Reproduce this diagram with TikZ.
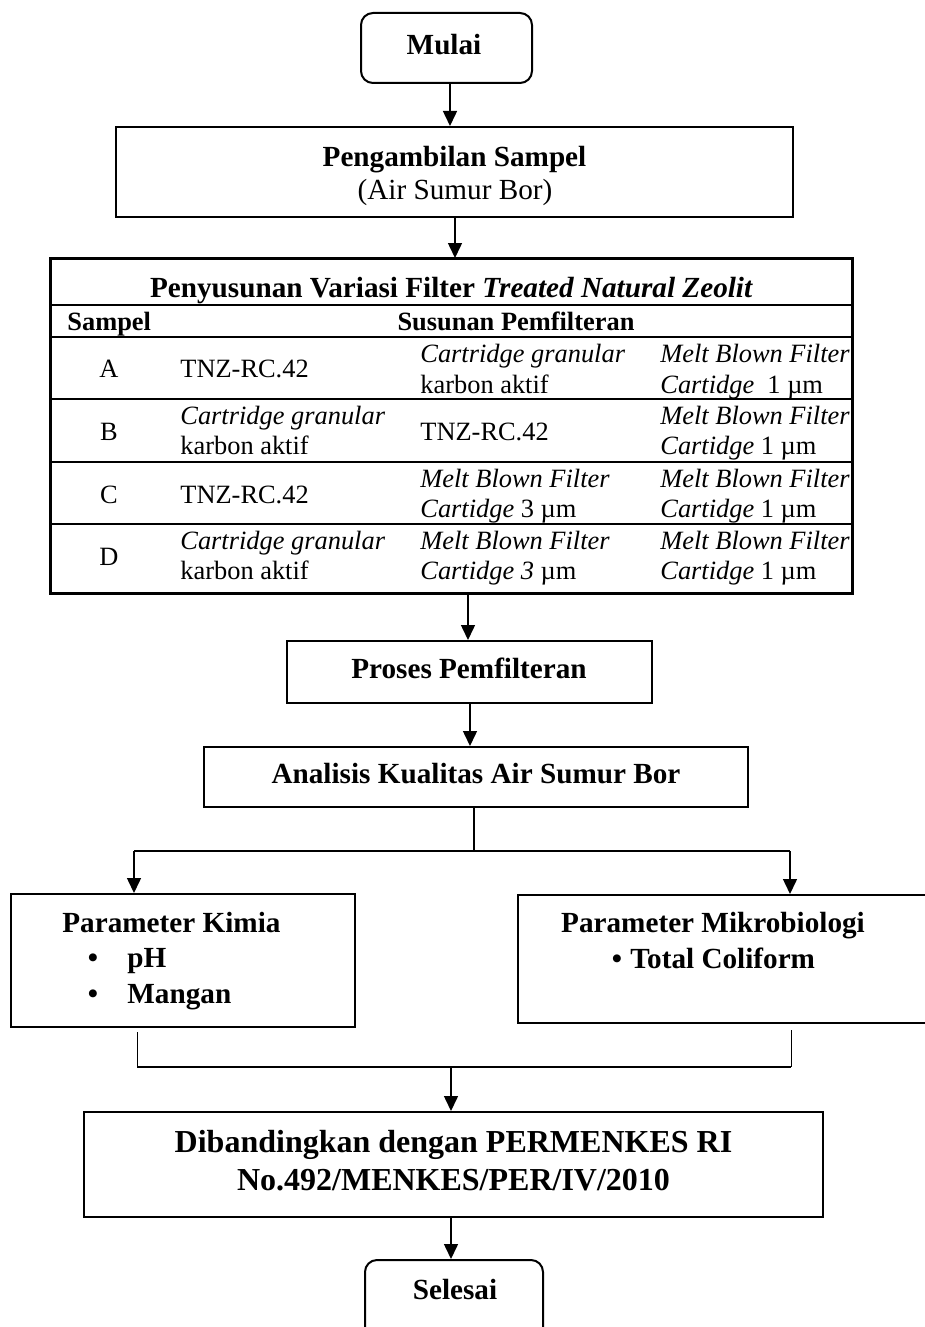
\documentclass[tikz,border=0pt]{standalone}
\usepackage{fontspec}
\setmainfont{Liberation Serif}
\usetikzlibrary{arrows.meta,calc}
\newcommand\fbold{\fontsize{14.6}{16.5}\selectfont\bfseries}
\newcommand\fbig{\fontsize{16}{19}\selectfont\bfseries}
\newcommand\ftab{\fontsize{13.2}{15}\selectfont}
\begin{document}
\begin{tikzpicture}[x=0.5pt,y=-0.5pt,
  box/.style={draw, line width=1pt, inner sep=0pt, fill=white},
  rbox/.style={box, rounded corners=6pt},
  arr/.style={-{Triangle[width=7pt,length=7.5pt]}, line width=0.75pt},
  ln/.style={line width=0.75pt},
  thin/.style={line width=0.5pt},
  tl/.style={line width=1pt},
  txt/.style={inner sep=0pt, font=\fbold, anchor=base},
  hd/.style={inner sep=0pt, font=\ftab\bfseries, anchor=base},
  big/.style={inner sep=0pt, font=\fbig, anchor=base},
  tb/.style={inner sep=0pt, font=\ftab, anchor=base west},
  tc/.style={inner sep=0pt, font=\ftab, anchor=base}]
\useasboundingbox (0,0) rectangle (925,1327);
\begin{scope}
\clip (0,0) rectangle (925,1327);
% column coordinates for connectors
\coordinate (c450) at (450,0);
\coordinate (c455) at (455,0);
\coordinate (c468) at (468,0);
\coordinate (c470) at (470,0);
\coordinate (c474) at (474,0);
\coordinate (c451) at (451,0);

% boxes
\node[rbox, minimum width=85.5pt, minimum height=35pt] (mulai) at (446.5,48) {};
\node[box, minimum width=338.5pt, minimum height=45pt] (ambil) at (454.5,172) {};
\node[box, minimum width=400.5pt, minimum height=167pt] (tabel) at (451.5,426) {};
\node[box, minimum width=182.5pt, minimum height=31pt] (proses) at (469.5,672) {};
\node[box, minimum width=272pt, minimum height=30pt] (analisis) at (476,777) {};
\node[box, minimum width=172pt, minimum height=66.5pt] (kimia) at (183,960.5) {};
\node[box, minimum width=208.5pt, minimum height=64pt] (mikro) at (726.5,959) {};
\node[box, minimum width=369.5pt, minimum height=52.5pt] (banding) at (453.5,1164.5) {};
\node[rbox, minimum width=89pt, minimum height=40pt] (selesai) at (454,1300) {};

% texts
\node[txt] (tmulai) at (444,55) {Mulai};
\node[txt] (tambil1) at (454.5,166) {Pengambilan Sampel};
\node[txt, font=\fontsize{14.6}{16.5}\selectfont] (tambil2) at (455,199) {(Air Sumur Bor)};

% table
\node[txt] (ttitle) at (451.5,297) {Penyusunan Variasi Filter \textit{Treated Natural Zeolit}};
\draw[tl] (tabel.west |- 0,305) -- (tabel.east |- 0,305);
\draw[tl] (tabel.west |- 0,337) -- (tabel.east |- 0,337);
\draw[tl] (tabel.west |- 0,399) -- (tabel.east |- 0,399);
\draw[tl] (tabel.west |- 0,462) -- (tabel.east |- 0,462);
\draw[tl] (tabel.west |- 0,524) -- (tabel.east |- 0,524);
\node[hd, anchor=base west] (hsampel) at (67,330) {Sampel};
\node[hd] (hsusun) at (516,330) {Susunan Pemfilteran};

\node[tc] (ra) at (109,377) {A};
\node[tc] (rb) at (109,440) {B};
\node[tc] (rc) at (109,503) {C};
\node[tc] (rd) at (109,565) {D};

% column 2
\node[tb] (a2) at (180,377) {TNZ-RC.42};
\node[tb] (b2a) at (180,424) {\textit{Cartridge granular}};
\node[tb] (b2b) at (180,454) {karbon aktif};
\node[tb] (c2) at (180,503) {TNZ-RC.42};
\node[tb] (d2a) at (180,549) {\textit{Cartridge granular}};
\node[tb] (d2b) at (180,579) {karbon aktif};
% column 3
\node[tb] (a3a) at (420,362) {\textit{Cartridge granular}};
\node[tb] (a3b) at (420,393) {karbon aktif};
\node[tb] (b3) at (420,440) {TNZ-RC.42};
\node[tb] (c3a) at (420,487) {\textit{Melt Blown Filter}};
\node[tb] (c3b) at (420,517) {\textit{Cartidge} 3 µm};
\node[tb] (d3a) at (420,549) {\textit{Melt Blown Filter}};
\node[tb] (d3b) at (420,579) {\textit{Cartidge 3} µm};
% column 4 (clipped by table border)
\begin{scope}
\clip (51,259) rectangle (852,593);
\node[tb] (a4a) at (660,362) {\textit{Melt Blown Filter}};
\node[tb] (a4b) at (660,393) {\textit{Cartidge}\ \ 1 µm};
\node[tb] (b4a) at (660,424) {\textit{Melt Blown Filter}};
\node[tb] (b4b) at (660,454) {\textit{Cartidge} 1 µm};
\node[tb] (c4a) at (660,487) {\textit{Melt Blown Filter}};
\node[tb] (c4b) at (660,517) {\textit{Cartidge} 1 µm};
\node[tb] (d4a) at (660,549) {\textit{Melt Blown Filter}};
\node[tb] (d4b) at (660,579) {\textit{Cartidge} 1 µm};
\end{scope}
\draw[tl] (tabel.north west) rectangle (tabel.south east);

\node[txt] (tproses) at (469,678) {Proses Pemfilteran};
\node[txt] (tanalisis) at (476,783) {Analisis Kualitas Air Sumur Bor};

\node[txt, anchor=base west] (tkimia) at (62,932) {Parameter Kimia};
\node[txt] (bul1) at (93,967) {•};
\node[txt] (bul2) at (93,1003) {•};
\node[txt, anchor=base west] (tph) at (127,967) {pH};
\node[txt, anchor=base west] (tmangan) at (127,1003) {Mangan};

\node[txt] (tmikro) at (713,932) {Parameter Mikrobiologi};
\node[txt] (bul3) at (617,968) {•};
\node[txt, anchor=base west] (tcoli) at (630,968) {Total Coliform};

\node[big] (tband1) at (453.5,1152) {Dibandingkan dengan PERMENKES RI};
\node[big] (tband2) at (453.5,1190) {No.492/MENKES/PER/IV/2010};

\node[txt] (tselesai) at (455,1299) {Selesai};

% connectors
\draw[arr] (mulai.south -| c450) -- (ambil.north -| c450);
\draw[arr] (ambil.south -| c455) -- (tabel.north -| c455);
\draw[arr] (tabel.south -| c468) -- (proses.north -| c468);
\draw[arr] (proses.south -| c470) -- (analisis.north -| c470);

\coordinate (split) at (474,851);
\coordinate (splitL) at (134,851);
\coordinate (splitR) at (790,851);
\draw[ln] (analisis.south -| c474) -- (split);
\draw[ln] (splitL) -- (splitR);
\draw[arr] (splitL) -- (kimia.north -| splitL);
\draw[arr] (splitR) -- (mikro.north -| splitR);

\coordinate (jL0) at (137,1032);
\coordinate (jL) at (137,1067);
\coordinate (jR0) at (791,1030);
\coordinate (jR) at (791,1067);
\coordinate (jM) at (451,1067);
\draw[thin] (jL0) -- (jL);
\draw[thin] (jR0) -- (jR);
\draw[tl] (jL) -- (jR);
\draw[arr] (jM) -- (banding.north -| jM);
\draw[arr] (banding.south -| c451) -- (selesai.north -| c451);
\end{scope}
\end{tikzpicture}
\end{document}
